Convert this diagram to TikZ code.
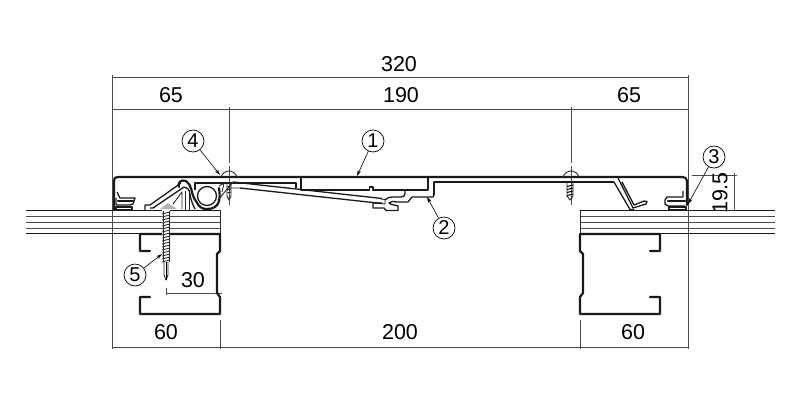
\documentclass[tikz,border=0pt]{standalone}
\usepackage{fontspec}
\setmainfont{Liberation Sans}
\usetikzlibrary{arrows.meta}
\tikzset{
  x=1pt,y=-1pt,
  dimline/.style={line width=0.7pt,black!70},
  thick part/.style={line width=2.2pt,black!90,line join=round,line cap=round},
  mid part/.style={line width=1.3pt,black!90,line join=round},
  thin part/.style={line width=0.9pt,black!85,line join=round},
  panel/.style={line width=0.8pt,black!70},
  dimtext/.style={inner sep=0pt,font=\fontsize{21.5}{24}\selectfont},
  callout/.style={circle,draw,line width=0.7pt,minimum size=22pt,inner sep=0pt,fill=white,font=\fontsize{20}{20}\selectfont},
  leader/.style={line width=0.6pt,-{Stealth[length=6pt,width=3.5pt]}},
}
\begin{document}
\begin{tikzpicture}
\useasboundingbox (0,0) rectangle (800,400);
\fill[white] (0,0) rectangle (800,400);

% dimension lines
\draw[dimline] (112,77) -- (688,77) (112,109) -- (688,109) (112,347) -- (688,347);
\draw[dimline] (112,75) -- (112,349) (688,75) -- (688,349);
\draw[dimline] (229,107) -- (229,163) (229,166) -- (229,205);
\draw[dimline] (571,107) -- (571,163) (571,166) -- (571,205);
\draw[dimline] (220,320) -- (220,349) (580,320) -- (580,349);
\draw[dimline] (692,175) -- (737,175) (734,173) -- (734,211);
\draw[dimline] (166,288) -- (166,295) (166,293) -- (222,293);

\node[dimtext] (d320) at (399,64) {320};
\node[dimtext] (d65a) at (171,95) {65};
\node[dimtext] (d190) at (401,95) {190};
\node[dimtext] (d65b) at (629,95) {65};
\node[dimtext] (d30) at (193,280) {30};
\node[dimtext] (d60a) at (166,332) {60};
\node[dimtext] (d200) at (400,332) {200};
\node[dimtext] (d60b) at (633,332) {60};
\node[dimtext,rotate=90] (d195) at (720,193) {19.5};

% panels
\foreach \y in {216,222,228}{
  \draw[panel] (26,\y) -- (220,\y) (580,\y) -- (775,\y);
}
\draw[mid part] (26,210.5) -- (220,210.5) (580,210.5) -- (775,210.5);
\draw[mid part] (26,233.5) -- (220,233.5) (580,233.5) -- (775,233.5);
\draw[thin part] (220,210) -- (220,234) (580,210) -- (580,234);

% channels
\draw[thick part] (150,251) -- (140,251) -- (140,234) -- (220,234) -- (220,251) -- (217,254) -- (217,293) -- (220,297) -- (220,314) -- (140,314) -- (140,297) -- (150,297);
\draw[thick part] (650,251) -- (660,251) -- (660,234) -- (580,234) -- (580,251) -- (583,254) -- (583,293) -- (580,297) -- (580,314) -- (660,314) -- (660,297) -- (650,297);

% left screw
\fill[white] (162,210) rectangle (170,263);
\draw[thin part] (163,211) -- (163,262) (169,211) -- (169,262);
\foreach \y in {212,215,...,260}{\draw[line width=0.9pt,black!80] (162,\y+2) -- (170,\y);}
\draw[thin part] (164,262) -- (164,275) -- (166,280) -- (168,275) -- (168,262);
\draw[line width=0.5pt] (166,262) -- (166,280);

% top plate
\draw[thick part] (114,200) -- (114,181) .. controls (114,178) and (115,177) .. (118,177) -- (682,177) .. controls (685,177) and (687,178) .. (687,181) -- (687,205);

% left gasket
\draw[mid part] (116,198) -- (116,205) -- (130,205) -- (133,204) -- (135,198) -- (120,198) -- (117,192);
\draw[thick part] (118,201) -- (133,201);
\draw[mid part] (114,200) -- (114,210) (116,207) -- (132,207) -- (132,210) -- (116,210) -- cycle;

% right gasket
\draw[mid part] (683,191) -- (683,197) -- (667,197) -- (665,200) -- (665,204) -- (668,206) -- (685,206);
\draw[thick part] (668,201) -- (685,201);
\draw[mid part] (669,207) -- (686,207) -- (686,210) -- (669,210) -- cycle;

% inner skin, right spring
\draw[mid part] (434,195) -- (434,182) -- (614,182);
\draw[mid part] (618,178) -- (633,208) -- (646,204) -- (647,201.5) -- (644,201) -- (634,205) -- (622,182);
\draw[mid part] (614,182) -- (630,209.5) -- (634,209.5);

% centre box
\draw[mid part] (301,177) -- (301,190) -- (369.5,190) -- (369.5,187) -- (373,187) -- (373,190) -- (428,190) -- (428,177);

% clip
\draw[mid part] (405,190) -- (405,194) .. controls (405,196) and (403,197) .. (401,197) -- (392,197) .. controls (389,197) and (387,198) .. (385,200)
  (434,195) -- (433,197) -- (412,197) -- (408,202) -- (397,202) .. controls (394,201) and (391,201) .. (389,203) .. controls (391,205) and (396,205) .. (398,206) -- (398,210.5) -- (386,210.5) -- (384,208) -- (373,208) -- (373,203) -- (382,203);
\draw[thin part] (381,199) -- (385,199.5) -- (385,204) -- (381,203.5);

% long arm
\draw[mid part] (233,182) -- (382,198.5);
\draw[mid part] (240,188) -- (382,203.5);

% upper inner box
\draw[mid part] (195,190) -- (195,183) -- (296,183) -- (296,188);
\draw[thin part] (218,200) -- (228,188) -- (240,188) (228,188) -- (233,182);
\draw[thin part] (219,186) -- (224,183) -- (222,192);

% hinge roll
\draw[mid part] (207,196) circle[radius=9.5];
\draw[thick part] (219,188) .. controls (221,200) and (219,209) .. (207,209) .. controls (198,209) and (198,203) .. (194,198) .. controls (191,192) and (192,185) .. (186,181) .. controls (181,179) and (177,183) .. (179,187);
\draw[mid part] (195,209) .. controls (193,205) and (191,201) .. (190,194) .. controls (189,189) and (187,187) .. (184,187);

% left foot & arm
\draw[mid part] (145,210) -- (145,205) -- (150,205) -- (181,183);
\draw[mid part] (150,208) -- (153,208) -- (184,187);
\draw[thin part] (185,191) -- (185,210) (189,190) -- (189,210);
\draw[thin part] (173,204) -- (182,192) -- (182,209);
\fill[black!30] (160,209) -- (168,203) -- (177,209) -- cycle;

% fixing screws at 229 and 571
\draw[thin part] (221,177) .. controls (224,169) and (234,169) .. (237,177);
\draw[thin part] (227,183) -- (227,196) -- (229,200) -- (231,196) -- (231,183);
\foreach \y in {186,189,192}{\draw[line width=0.7pt] (227,\y+1) -- (231,\y);}
\draw[thin part] (563,177) .. controls (566,169) and (576,169) .. (579,177);
\draw[thin part] (567,183) -- (567,196) -- (570,200) -- (573,196) -- (573,183);
\foreach \y in {185,188,191,194}{\draw[line width=1pt] (567,\y+1.5) -- (573,\y);}

% callouts
\coordinate (t1) at (357,176);
\coordinate (t2) at (427,197);
\coordinate (t3) at (688,204);
\coordinate (t4) at (220,175);
\coordinate (t5) at (162,254);
\node[callout] (c1) at (373,141) {1};
\node[callout] (c2) at (444,228) {2};
\node[callout] (c3) at (714,157) {3};
\node[callout] (c4) at (193,141) {4};
\node[callout] (c5) at (135,275) {5};
\draw[leader] (c1) -- (t1);
\draw[leader] (c2) -- (t2);
\draw[leader] (c3) -- (t3);
\draw[leader] (c4) -- (t4);
\draw[leader] (c5) -- (t5);
\end{tikzpicture}
\end{document}
